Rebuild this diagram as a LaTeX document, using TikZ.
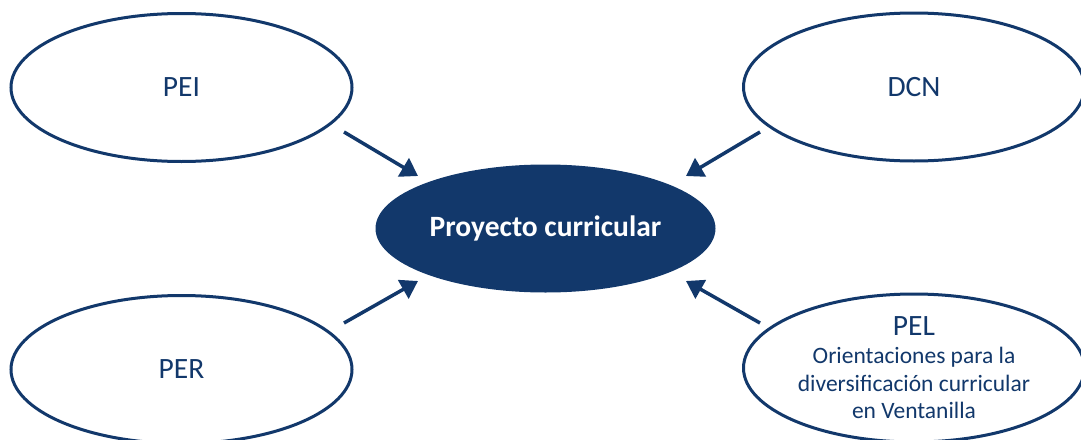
\documentclass[tikz,border=0pt]{standalone}
\usepackage{fontspec}
\setmainfont{Carlito}
\usetikzlibrary{shapes.geometric,arrows.meta}
\definecolor{navy}{HTML}{12386B}
\begin{document}
\begin{tikzpicture}[x=1pt,y=-1pt,
  outer/.style={ellipse,draw=navy,line width=3pt,fill=white,minimum width=341pt,minimum height=148pt,inner sep=0pt,text=navy,font=\fontsize{29.5}{34}\selectfont},
  core/.style={ellipse,fill=navy,minimum width=340pt,minimum height=128pt,inner sep=0pt,text=white,font=\fontsize{29.5}{34}\selectfont\bfseries},
  link/.style={draw=navy,line width=3.5pt,-{Triangle[width=21pt,length=17pt]}}]
\useasboundingbox (0,0) rectangle (1081,439);
\clip (0,0) rectangle (1081,439);
\node[outer] (pei) at (181.5,87.5) {PEI};
\node[outer] (dcn) at (914,87) {DCN};
\node[outer] (per) at (181.5,369.5) {PER};
\node[outer] (pel) at (914,368) {};
\node[text=navy,font=\fontsize{29.5}{34}\selectfont,anchor=base] (peltitle) at (914,335) {PEL};
\node[text=navy,font=\fontsize{23.5}{27.5}\selectfont,align=center,anchor=north] (peltext) at (914,344) {Orientaciones para la\\diversificación curricular\\en Ventanilla};
\node[core] (pc) at (545.5,228.5) {Proyecto curricular};
\coordinate (a1) at (344,132);
\coordinate (b1) at (418,176);
\coordinate (a2) at (760,132);
\coordinate (b2) at (686,176);
\coordinate (a3) at (344,323);
\coordinate (b3) at (418,281);
\coordinate (a4) at (760,323);
\coordinate (b4) at (686,281);
\draw[link] (a1) -- (b1);
\draw[link] (a2) -- (b2);
\draw[link] (a3) -- (b3);
\draw[link] (a4) -- (b4);
\end{tikzpicture}
\end{document}
